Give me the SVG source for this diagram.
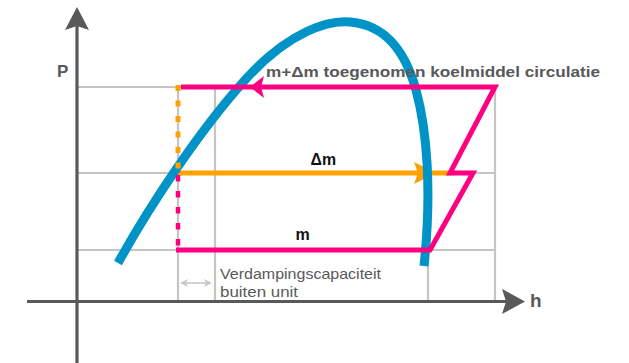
<svg xmlns="http://www.w3.org/2000/svg" width="629" height="363" viewBox="0 0 629 363">
<style>
.grid{stroke:#c8c4c4;stroke-width:2.2;fill:none}
.axis{stroke:#58595b;stroke-width:3.2;fill:none}
.axhead{fill:#58595b}
.pink{stroke:#ff0080;stroke-width:5;fill:none;stroke-linejoin:miter}
.orange{stroke:#ffa100;stroke-width:5;fill:none}
.blue{stroke:#0093c8;stroke-width:9;fill:none}
.lbl{font-family:"Liberation Sans",Arial,sans-serif;font-weight:bold}
.note{font-family:"Liberation Sans",Arial,sans-serif;font-size:15px;fill:#58595b}
</style>
<rect width="629" height="363" fill="#ffffff"/>
<g id="grid">
<line class="grid" x1="77" y1="87" x2="495" y2="87"/>
<line class="grid" x1="77" y1="173" x2="495" y2="173"/>
<line class="grid" x1="77" y1="250" x2="495" y2="250"/>
<line class="grid" x1="178" y1="87" x2="178" y2="301"/>
<line class="grid" x1="215" y1="87" x2="215" y2="301"/>
<line class="grid" x1="428" y1="250" x2="428" y2="301"/>
<line class="grid" x1="495" y1="87" x2="495" y2="301"/>
</g>
<g id="axes">
<line class="axis" x1="77" y1="363" x2="77" y2="26"/>
<polygon class="axhead" points="77,7 89,30 77,26 65,30"/>
<line class="axis" x1="27" y1="301.5" x2="506" y2="301.5"/>
<polygon class="axhead" points="525,301.5 502,289 506,301.5 502,314"/>
<text class="lbl" x="57" y="77" font-size="17" fill="#58595b">P</text>
<text class="lbl" x="530" y="307" font-size="19" fill="#58595b">h</text>
</g>
<g id="connectors">
<g id="delta-m-flow">
<line class="orange" x1="178" y1="173" x2="452" y2="173"/>
<polygon fill="#ffa100" points="436,173 414,162 418,173 414,184"/>
</g>
<g id="saturation-curve">
<path class="blue" d="M118,263 C150,205 200,130 245,80 C290,30 330,20 350,22 C385,25 405,50 416,90 C427,130 432,190 424,266"/>
</g>
<g id="vertical-dashes">
<line class="orange" x1="178" y1="85" x2="178" y2="171" stroke-width="4.5" stroke-dasharray="6,9.5"/>
<line stroke="#ff0080" stroke-width="4.5" x1="178" y1="175" x2="178" y2="250" stroke-dasharray="6.5,9.5"/>
</g>
<g id="cycle">
<polyline class="pink" points="176,250 430,250 473,173 450,173 495,87 181,87"/>
<polygon fill="#ff0080" points="250,87 264,76 261,87 264,98"/>
</g>
<g id="capacity-arrow">
<line stroke="#c8c8c8" stroke-width="1.6" x1="183" y1="283" x2="209" y2="283"/>
<polygon fill="#c8c8c8" points="180,283 188,279 186,283 188,287"/>
<polygon fill="#c8c8c8" points="212,283 204,279 206,283 204,287"/>
</g>
</g>
<g id="labels">
<text class="lbl" x="266" y="77" font-size="15.5" fill="#58595b" textLength="334" lengthAdjust="spacingAndGlyphs">m+Δm toegenomen koelmiddel circulatie</text>
<text class="lbl" x="310.5" y="165" font-size="16" fill="#111111" textLength="25.5" lengthAdjust="spacingAndGlyphs">Δm</text>
<text class="lbl" x="295.5" y="240" font-size="16" fill="#111111">m</text>
<text class="note" x="220" y="278.5" textLength="161" lengthAdjust="spacingAndGlyphs">Verdampingscapaciteit</text>
<text class="note" x="220" y="297" textLength="78" lengthAdjust="spacingAndGlyphs">buiten unit</text>
</g>
</svg>
